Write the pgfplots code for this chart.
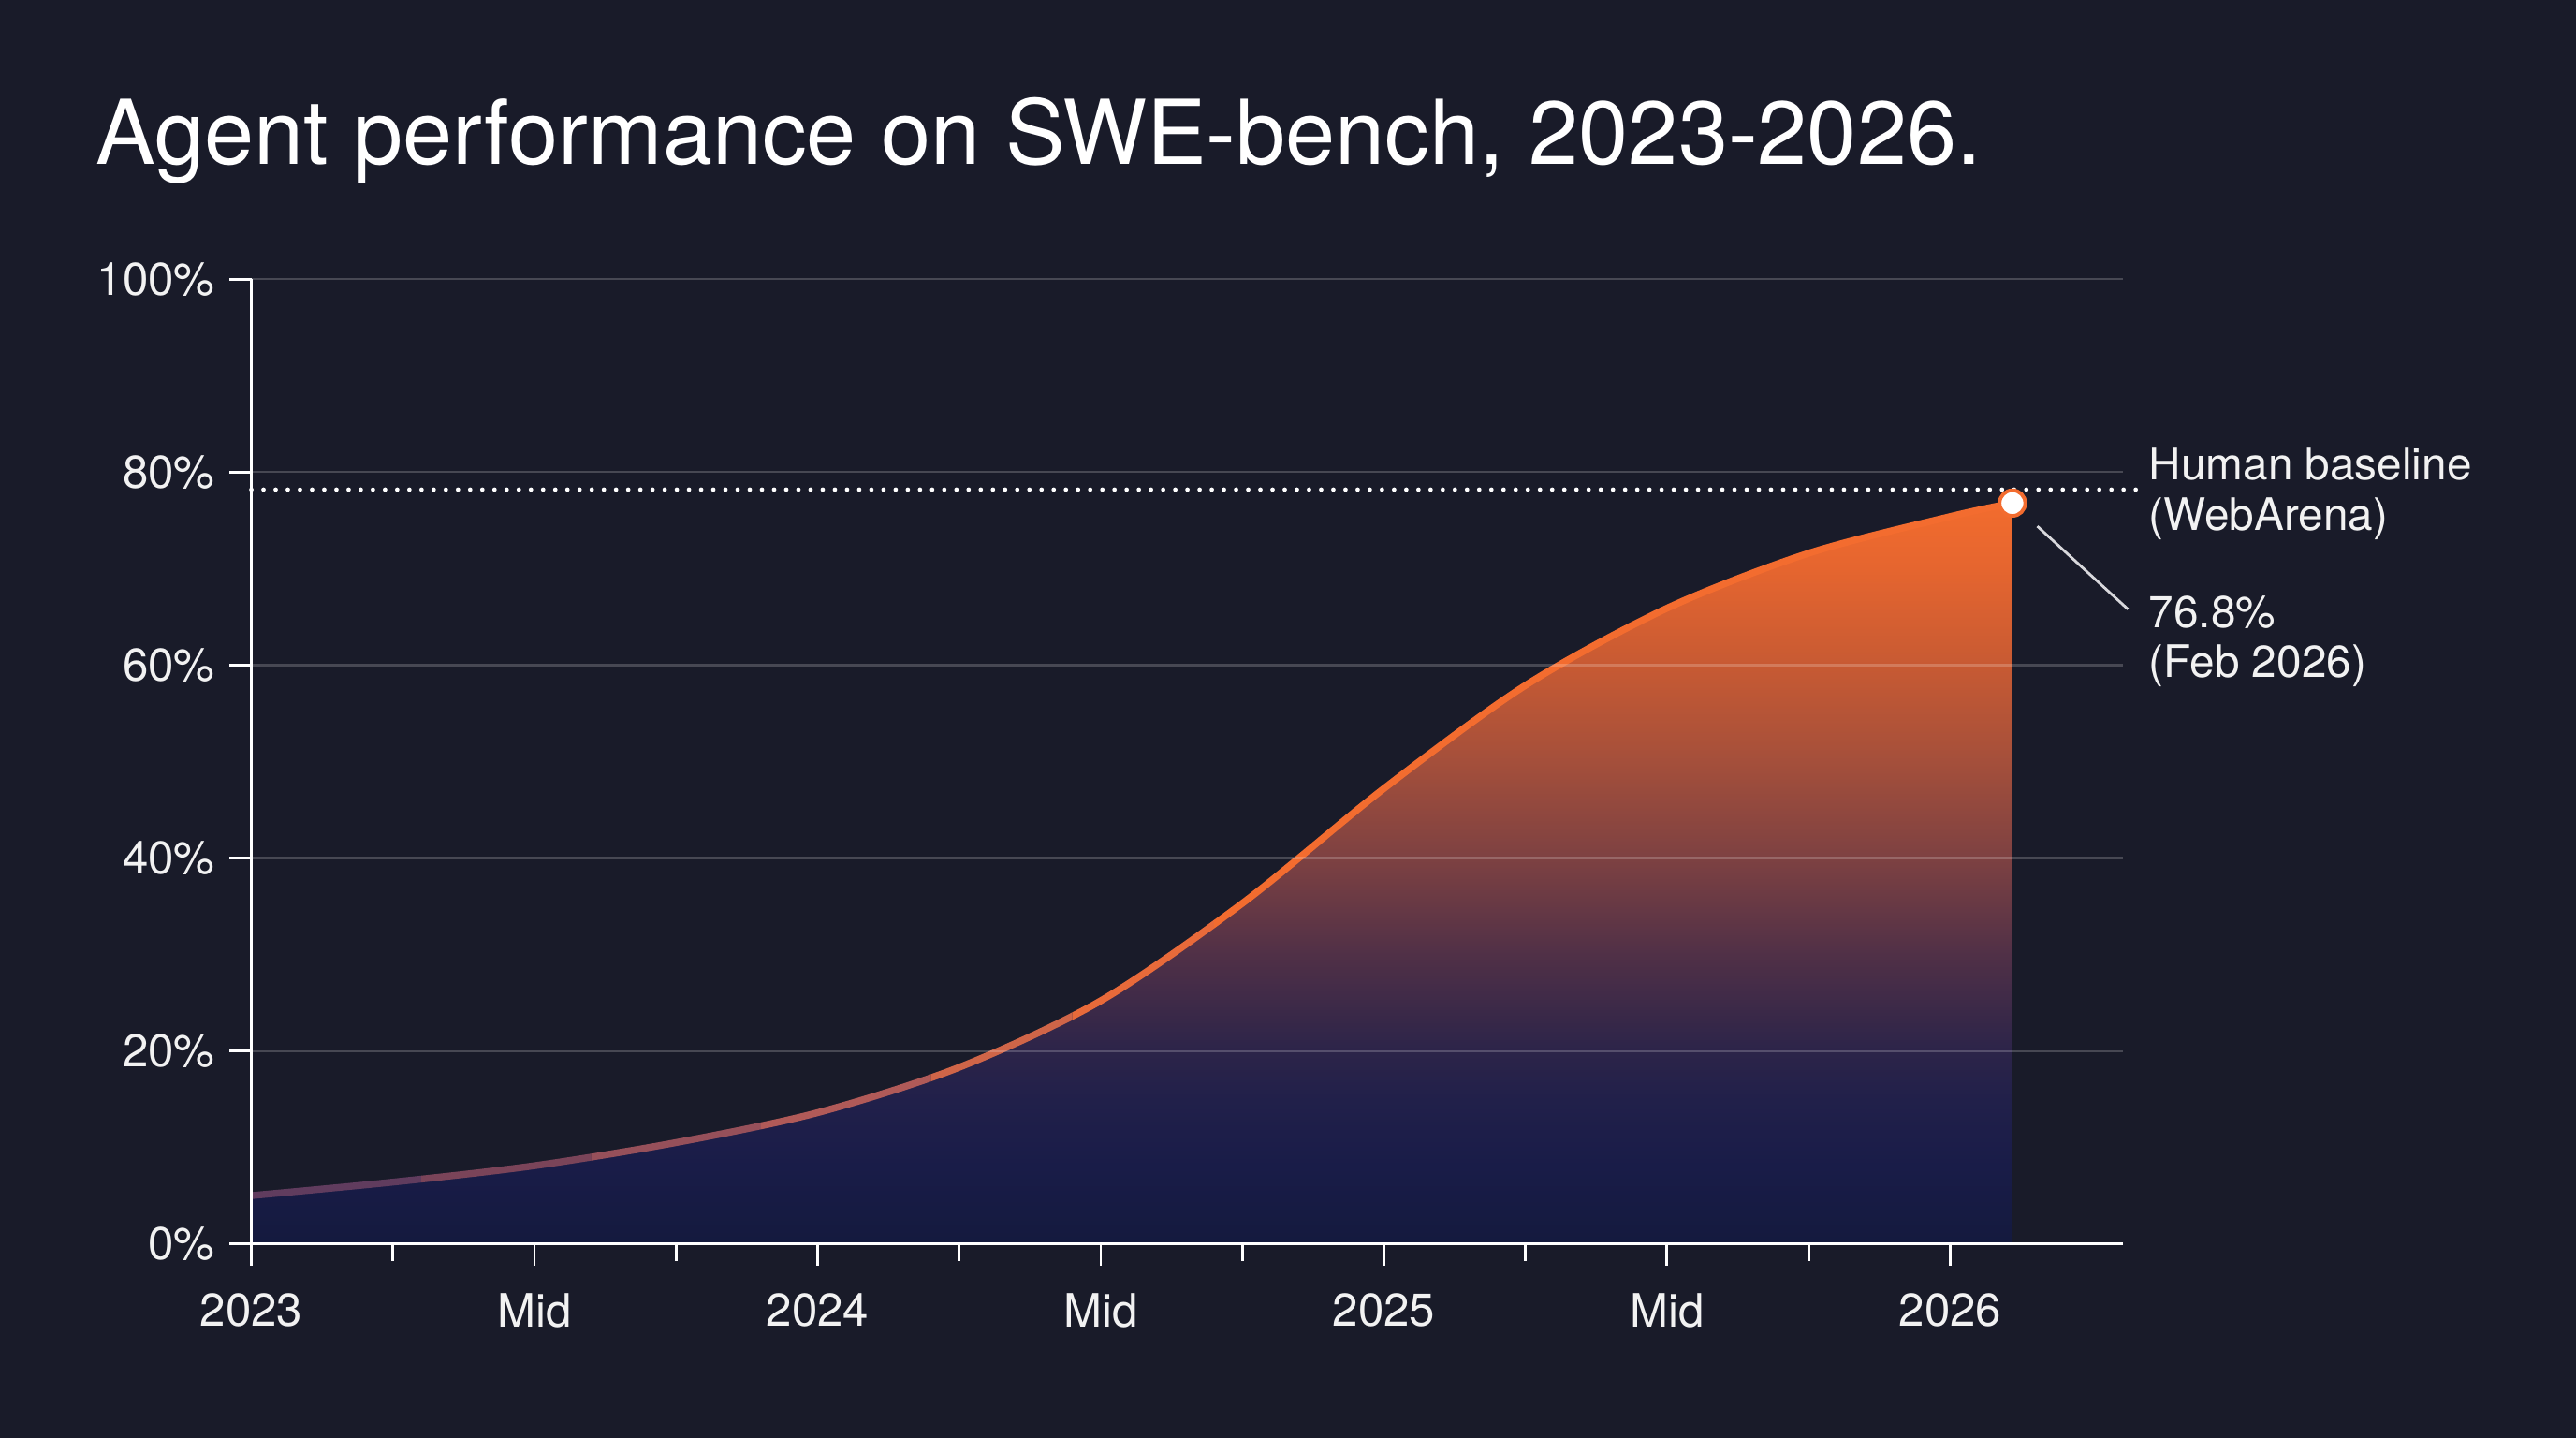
\documentclass[border=0pt]{standalone}
\usepackage{fontspec}
\setmainfont{TeX Gyre Heros}
\usepackage{pgfplots}
\usepackage{pgfplotstable}
\pgfplotsset{compat=1.18}

\definecolor{bgc}{HTML}{191B29}
\definecolor{txt}{HTML}{F2F2F2}
\definecolor{orangec}{HTML}{F36C2F}
\definecolor{leader}{HTML}{D8D8DC}
% line colours, left to right
\definecolor{la}{HTML}{603C5E}
\definecolor{lb}{HTML}{7A4459}
\definecolor{lc}{HTML}{96505A}
\definecolor{ld}{HTML}{B05A58}
\definecolor{le}{HTML}{CF6548}
\definecolor{lf}{HTML}{E86A3A}
% fill colours, bottom to top
\definecolor{fa}{HTML}{141A3E}
\definecolor{fb}{HTML}{191C48}
\definecolor{fc}{HTML}{21204A}
\definecolor{fd}{HTML}{2C2449}
\definecolor{fe}{HTML}{503047}
\definecolor{ff}{HTML}{7D4142}
\definecolor{fg}{HTML}{A44F3B}
\definecolor{fh}{HTML}{C75A33}
\definecolor{fi}{HTML}{E5652F}
\definecolor{fj}{HTML}{F26C2E}

% 25bp = 0%, 75bp = top of the area (~77%)
\pgfdeclareverticalshading{areashade}{100bp}{%
  color(0bp)=(fa); color(25bp)=(fa); color(30.2bp)=(fb); color(34.7bp)=(fc);
  color(38bp)=(fd); color(44.5bp)=(fe); color(51bp)=(ff); color(57.5bp)=(fg);
  color(64bp)=(fh); color(70.5bp)=(fi); color(75bp)=(fj); color(100bp)=(fj)}

% SWE-bench score (%), by date
\pgfplotstableread{
x y
2023.00 5.0
2023.25 6.4
2023.50 8.1
2023.75 10.5
2024.00 13.6
2024.25 18.3
2024.50 25.2
2024.75 35.3
2025.00 47.2
2025.25 57.9
2025.50 65.9
2025.75 71.6
2026.00 75.4
2026.11 76.8
}\swe

% the curve, drawn only between two dates, in one colour
\newcommand{\band}[3]{%
  \begin{scope}
  \clip (axis cs:#1,-5) rectangle (axis cs:#2,105);
  \addplot[#3, line width=2.1pt, smooth] table[x=x, y=y] {\swe};
  \end{scope}}

\begin{document}
\begin{tikzpicture}
\fill[bgc] (-76.5pt,-59pt) rectangle (707.5pt,378.5pt);
\node[anchor=base west, text=white, font=\fontsize{27.2pt}{32pt}\selectfont, inner sep=0pt]
  at (-47.5pt,328.5pt) {Agent performance on SWE-bench, 2023-2026.};

\begin{axis}[
    scale only axis,
    width=569.5pt, height=293.5pt,
    xmin=2023, xmax=2026.3046,
    ymin=0, ymax=100,
    axis x line*=bottom, axis y line*=left,
    axis line style={white, line width=0.8pt},
    xtick={2023,2023.5,2024,2024.5,2025,2025.5,2026},
    xticklabels={2023,Mid,2024,Mid,2025,Mid,2026},
    minor xtick={2023.25,2023.75,2024.25,2024.75,2025.25,2025.75},
    ytick={0,20,40,60,80,100},
    yticklabels={0\%,20\%,40\%,60\%,80\%,100\%},
    scaled x ticks=false,
    tick align=outside,
    major tick length=6.6pt, minor tick length=5.2pt,
    tick style={white, line width=0.8pt},
    ymajorgrids,
    grid style={white, opacity=0.2, line width=0.6pt},
    tick label style={font=\fontsize{14pt}{16pt}\selectfont, text=txt},
    xticklabel style={yshift=-5pt},
    yticklabel style={xshift=-1pt},
    axis on top,
    clip=false,
]
\addplot[draw=none, shading=areashade] table[x=x, y=y] {\swe} \closedcycle;

\band{2022.9}{2023.3}{la}
\band{2023.3}{2023.6}{lb}
\band{2023.6}{2023.9}{lc}
\band{2023.9}{2024.2}{ld}
\band{2024.2}{2024.45}{le}
\band{2024.45}{2024.7}{lf}
\band{2024.7}{2026.3}{orangec}

% human baseline
\addplot[white, line width=1.35pt, dash pattern=on 0pt off 3.7pt, line cap=round]
  coordinates {(2023,78.2) (2026.33,78.2)};

\addplot[only marks, mark=*, mark size=3.9pt,
  mark options={fill=white, draw=orangec, line width=1.1pt}]
  coordinates {(2026.11,76.8)};

\draw[leader, line width=0.8pt] (axis cs:2026.154,74.4) -- (axis cs:2026.314,65.8);

\begin{scope}[every node/.style={anchor=base west, inner sep=0pt, text=txt,
    font=\fontsize{13.6pt}{16pt}\selectfont}]
\node at (axis cs:2026.35,79.2) {Human baseline};
\node at (axis cs:2026.35,73.95) {(WebArena)};
\node at (axis cs:2026.35,63.9) {76.8\%};
\node at (axis cs:2026.35,58.7) {(Feb 2026)};
\end{scope}
\end{axis}

\pgfresetboundingbox
\path[use as bounding box] (-76.5pt,-59pt) rectangle (707.5pt,378.5pt);
\end{tikzpicture}
\end{document}
